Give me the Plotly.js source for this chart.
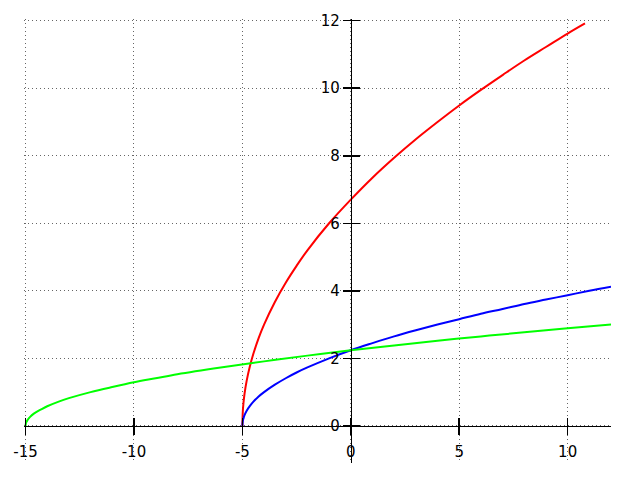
<!DOCTYPE html>
<html>
<head>
<meta charset="utf-8">
<script src="https://cdn.plot.ly/plotly-3.0.1.min.js"></script>
<style>html,body{margin:0;padding:0;background:#fff}#plot{width:640px;height:480px}</style>
</head>
<body>
<div id="plot"></div>
<script>
// Values
var redX   = [-5, -4.98, -4.95, -4.9, -4.8, -4.65, -4.5, -4.25, -4, -3.5, -3, -2.5, -2, -1, 0, 1, 2, 3, 4, 5, 6, 7, 8, 9, 10, 10.8];
var redY   = [0, 0.42, 0.67, 0.95, 1.34, 1.77, 2.12, 2.6, 3.0, 3.67, 4.24, 4.74, 5.2, 6.0, 6.7, 7.35, 7.94, 8.49, 9.0, 9.49, 9.95, 10.39, 10.82, 11.22, 11.62, 11.92];
var blueX  = [-5, -4.98, -4.95, -4.9, -4.8, -4.65, -4.5, -4.25, -4, -3.5, -3, -2.5, -2, -1, 0, 1, 2, 3, 4, 5, 6, 7, 8, 9, 10, 11, 12];
var blueY  = [0, 0.14, 0.22, 0.32, 0.45, 0.59, 0.71, 0.87, 1.0, 1.22, 1.41, 1.58, 1.73, 2.0, 2.24, 2.45, 2.65, 2.83, 3.0, 3.16, 3.32, 3.46, 3.61, 3.74, 3.87, 4.0, 4.12];
var greenX = [-15, -14.97, -14.9, -14.8, -14.6, -14.3, -14, -13.5, -13, -12, -11, -10, -9, -8, -6, -4, -2, 0, 2, 4, 6, 8, 10, 12];
var greenY = [0, 0.1, 0.18, 0.26, 0.37, 0.48, 0.58, 0.71, 0.82, 1.0, 1.15, 1.29, 1.41, 1.53, 1.73, 1.91, 2.08, 2.24, 2.38, 2.52, 2.65, 2.77, 2.89, 3.0];

var xTicks = [-15, -10, -5, 0, 5, 10];
var yTicks = [0, 2, 4, 6, 8, 10, 12];

var traces = [
  {x: redX, y: redY, mode: 'lines', line: {color: '#ff0000', width: 2, shape: 'spline'}},
  {x: blueX, y: blueY, mode: 'lines', line: {color: '#0000ff', width: 2, shape: 'spline'}},
  {x: greenX, y: greenY, mode: 'lines', line: {color: '#00ff00', width: 2, shape: 'spline'}},
  {x: [0], y: [0], xaxis: 'x2', yaxis: 'y2', mode: 'markers', marker: {opacity: 0}, hoverinfo: 'skip'}
];

var font = {family: 'DejaVu Sans, sans-serif', size: 15, color: '#000'};
// ranges padded so the edge grid lines and inner ticks are kept; the axes cross at (0, 0)
var xr = [-15.07, 12], yr = [-1.1, 12.05];
var ypos = (0 - xr[0]) / (xr[1] - xr[0]);
var xpos = (0 - yr[0]) / (yr[1] - yr[0]);

var layout = {
  width: 640, height: 480,
  margin: {l: 24, r: 29, t: 19, b: 17},
  paper_bgcolor: '#fff', plot_bgcolor: '#fff',
  showlegend: false,
  font: font,
  xaxis: {
    range: xr, tickvals: xTicks, ticktext: xTicks.map(String),
    showgrid: true, gridcolor: '#666', griddash: '1px,3px', gridwidth: 1,
    zeroline: false, showline: true, linecolor: '#000', linewidth: 1.5,
    ticks: 'outside', ticklen: 8, tickwidth: 1.5, tickcolor: '#000',
    tickfont: font, anchor: 'free', position: xpos, ticklabelstandoff: 4
  },
  yaxis: {
    range: yr, tickvals: yTicks, ticktext: yTicks.map(String),
    showgrid: true, gridcolor: '#666', griddash: '1px,3px', gridwidth: 1,
    zeroline: false, showline: true, linecolor: '#000', linewidth: 1.5,
    ticks: 'outside', ticklen: 8, tickwidth: 1.5, tickcolor: '#000',
    tickfont: font, anchor: 'free', position: ypos
  },
  xaxis2: {
    range: xr, tickvals: xTicks, overlaying: 'x', anchor: 'free', position: xpos, side: 'bottom',
    showgrid: false, zeroline: false, showline: false, showticklabels: false,
    ticks: 'inside', ticklen: 8, tickwidth: 1.5, tickcolor: '#000'
  },
  yaxis2: {
    range: yr, tickvals: yTicks, overlaying: 'y', anchor: 'free', position: ypos, side: 'left',
    showgrid: false, zeroline: false, showline: false, showticklabels: false,
    ticks: 'inside', ticklen: 8, tickwidth: 1.5, tickcolor: '#000'
  }
};

Plotly.newPlot('plot', traces, layout, {staticPlot: true, displayModeBar: false});
</script>
</body>
</html>
